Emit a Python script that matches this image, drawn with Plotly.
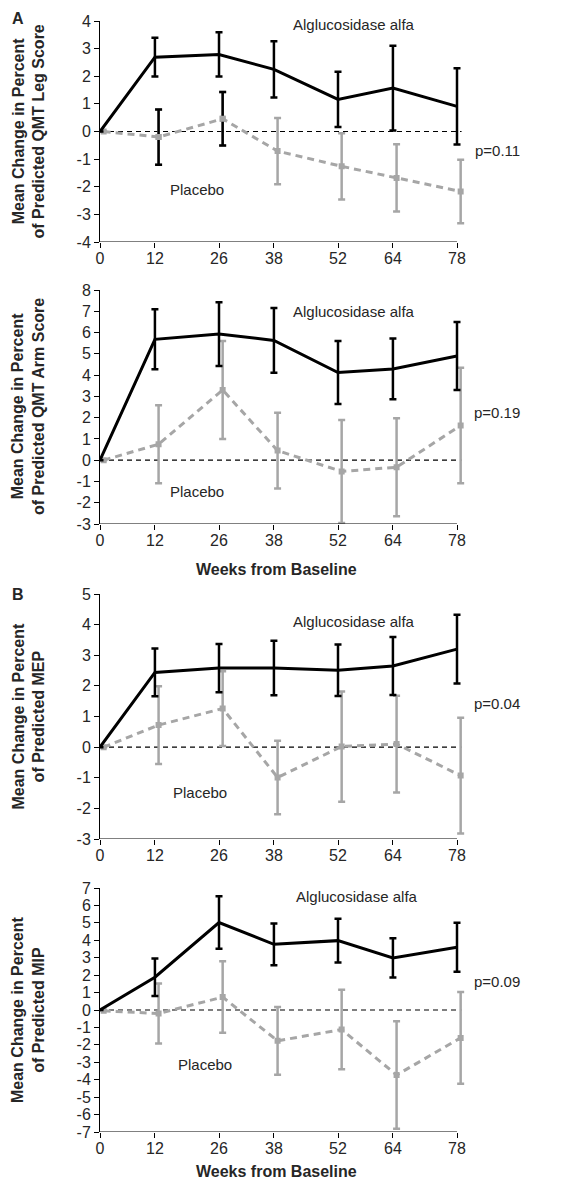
import plotly.graph_objects as go

weeks = [0, 12, 26, 38, 52, 64, 78]
tick_labels = ["0", "12", "26", "38", "52", "64", "78"]

leg_alg = [0, 2.69, 2.79, 2.25, 1.16, 1.57, 0.91]
leg_alg_err = [0, 0.70, 0.80, 1.02, 1.00, 1.53, 1.38]
leg_pla = [0, -0.20, 0.46, -0.71, -1.26, -1.68, -2.17]
leg_pla_err = [0, 1.00, 0.97, 1.20, 1.20, 1.22, 1.15]
leg_pla_dark_bar_weeks = [12, 26]

arm_alg = [0, 5.68, 5.93, 5.63, 4.12, 4.29, 4.90]
arm_alg_err = [0, 1.41, 1.50, 1.52, 1.48, 1.43, 1.60]
arm_pla = [0, 0.75, 3.30, 0.45, -0.53, -0.33, 1.63]
arm_pla_err = [0, 1.83, 2.30, 1.78, 2.42, 2.30, 2.72]

mep_alg = [0, 2.44, 2.58, 2.58, 2.51, 2.65, 3.20]
mep_alg_err = [0, 0.78, 0.79, 0.89, 0.84, 0.95, 1.12]
mep_pla = [0, 0.72, 1.26, -0.99, 0.02, 0.10, -0.93]
mep_pla_err = [0, 1.27, 1.22, 1.20, 1.80, 1.58, 1.89]

mip_alg = [0, 1.88, 5.02, 3.77, 3.98, 2.99, 3.60]
mip_alg_err = [0, 1.08, 1.50, 1.20, 1.26, 1.13, 1.40]
mip_pla = [-0.05, -0.20, 0.74, -1.77, -1.12, -3.73, -1.60]
mip_pla_err = [0, 1.72, 2.05, 1.94, 2.28, 3.08, 2.63]

# screen pixel layout (page has an 8px body margin)
PAGE_OFF = 8
W, H = 588 - PAGE_OFF, 1182 - PAGE_OFF


def fx(px):
    return (px - PAGE_OFF) / W


def fy(py):
    return 1 - (py - PAGE_OFF) / H


panels = [
    dict(alg=leg_alg, alg_err=leg_alg_err, pla=leg_pla, pla_err=leg_pla_err,
         dark=leg_pla_dark_bar_weeks,
         yr=[-4, 4], title="Mean Change in Percent<br>of Predicted QMT Leg Score",
         p="p=0.11", py=-0.67, alg_lab=(55.5, 3.89), pla_lab=(21.3, -2.09),
         top=21, bottom=242, xtitle=None),
    dict(alg=arm_alg, alg_err=arm_alg_err, pla=arm_pla, pla_err=arm_pla_err, dark=[],
         yr=[-3, 8], title="Mean Change in Percent<br>of Predicted QMT Arm Score",
         p="p=0.19", py=2.23, alg_lab=(55.5, 6.98), pla_lab=(21.3, -1.48),
         top=290, bottom=524, xtitle=569),
    dict(alg=mep_alg, alg_err=mep_alg_err, pla=mep_pla, pla_err=mep_pla_err, dark=[],
         yr=[-3, 5], title="Mean Change in Percent<br>of Predicted MEP",
         p="p=0.04", py=1.42, alg_lab=(55.4, 4.11), pla_lab=(21.8, -1.48),
         top=594, bottom=839, xtitle=None),
    dict(alg=mip_alg, alg_err=mip_alg_err, pla=mip_pla, pla_err=mip_pla_err, dark=[],
         yr=[-7, 7], title="Mean Change in Percent<br>of Predicted MIP",
         p="p=0.09", py=1.62, alg_lab=(56.1, 6.53), pla_lab=(22.9, -3.1),
         top=888, bottom=1132, xtitle=1171),
]

FONT = "Liberation Sans, Arial, sans-serif"
BLACK = "#000000"
GRAY = "#a6a6a6"
TXT = "#262626"
offset = 0.8
X_MAX = 78
X_RANGE = [0, 80]
X_DOMAIN = [fx(100), fx(100 + 357 * 80 / 78)]

fig = go.Figure()
annotations = []
shapes = []
layout_axes = {}
for i, p in enumerate(panels):
    n = i + 1
    xa = "x" if n == 1 else f"x{n}"
    ya = "y" if n == 1 else f"y{n}"
    xp = [w + offset for w in weeks]
    fig.add_trace(go.Scatter(
        x=xp, y=p["pla"], xaxis=xa, yaxis=ya,
        mode="lines+markers", line=dict(color=GRAY, width=3, dash="7px,5px"),
        marker=dict(symbol="square", size=6, color=GRAY),
        error_y=dict(type="data", array=p["pla_err"], color=GRAY, thickness=2.5, width=3.5),
        showlegend=False))
    if p["dark"]:
        idx = [weeks.index(w) for w in p["dark"]]
        fig.add_trace(go.Scatter(
            x=[xp[k] for k in idx], y=[p["pla"][k] for k in idx], xaxis=xa, yaxis=ya,
            mode="markers", marker=dict(symbol="square", size=6, color=GRAY),
            error_y=dict(type="data", array=[p["pla_err"][k] for k in idx],
                         color=BLACK, thickness=2.5, width=3.5),
            showlegend=False))
    fig.add_trace(go.Scatter(
        x=weeks, y=p["alg"], xaxis=xa, yaxis=ya,
        mode="lines", line=dict(color=BLACK, width=3),
        error_y=dict(type="data", array=p["alg_err"], color=BLACK, thickness=2.5, width=3.5),
        showlegend=False))
    shapes.append(dict(type="line", xref=xa, yref=ya, x0=0, x1=X_MAX + 1, y0=0, y1=0,
                       line=dict(color=BLACK, width=1.2, dash="5px,4px"), layer="below"))
    shapes.append(dict(type="line", xref=xa, yref=ya, x0=0, x1=X_MAX, y0=p["yr"][0], y1=p["yr"][0],
                       line=dict(color=BLACK, width=1), layer="above"))
    yt = list(range(p["yr"][0], p["yr"][1] + 1))
    dom = [fy(p["bottom"]), fy(p["top"])]
    xkey = "xaxis" if n == 1 else f"xaxis{n}"
    ykey = "yaxis" if n == 1 else f"yaxis{n}"
    layout_axes[xkey] = dict(domain=X_DOMAIN, range=X_RANGE, anchor=ya, automargin=False,
                             tickvals=weeks, ticktext=tick_labels, showgrid=False,
                             zeroline=False, showline=False,
                             ticks="outside", ticklen=5, tickcolor=BLACK,
                             ticklabelstandoff=-3,
                             tickfont=dict(family=FONT, size=16, color=TXT))
    layout_axes[ykey] = dict(domain=dom, range=p["yr"], anchor=xa, automargin=False,
                             tickvals=yt, ticktext=[str(v) for v in yt],
                             showgrid=False, zeroline=False, showline=True,
                             linecolor=BLACK, linewidth=1, ticks="outside", ticklen=5,
                             tickcolor=BLACK, tickfont=dict(family=FONT, size=16, color=TXT))
    annotations.append(dict(xref="paper", yref="paper", x=fx(28),
                            y=fy((p["top"] + p["bottom"]) / 2),
                            text="<b>" + p["title"] + "</b>", textangle=-90,
                            showarrow=False, xanchor="center", yanchor="middle",
                            font=dict(family=FONT, size=16, color=TXT)))
    annotations.append(dict(xref=xa, yref=ya, x=p["alg_lab"][0], y=p["alg_lab"][1],
                            text="Alglucosidase alfa", showarrow=False,
                            font=dict(family=FONT, size=15, color=TXT)))
    annotations.append(dict(xref=xa, yref=ya, x=p["pla_lab"][0], y=p["pla_lab"][1],
                            text="Placebo", showarrow=False,
                            font=dict(family=FONT, size=15, color=TXT)))
    annotations.append(dict(xref="paper", yref=ya, x=fx(497), y=p["py"],
                            text=p["p"], showarrow=False, xanchor="center",
                            font=dict(family=FONT, size=15, color=TXT)))
    if p["xtitle"]:
        annotations.append(dict(xref="paper", yref="paper", x=fx(276),
                                y=fy(p["xtitle"]), yanchor="middle",
                                text="<b>Weeks from Baseline</b>", showarrow=False,
                                font=dict(family=FONT, size=16, color=TXT)))

annotations.append(dict(xref="paper", yref="paper", x=fx(18), y=fy(8.5),
                        text="<b>A</b>", showarrow=False, xanchor="center", yanchor="top",
                        font=dict(family=FONT, size=16, color=TXT)))
annotations.append(dict(xref="paper", yref="paper", x=fx(17.5), y=fy(594),
                        text="<b>B</b>", showarrow=False, xanchor="center", yanchor="middle",
                        font=dict(family=FONT, size=16, color=TXT)))

fig.update_layout(width=W, height=H,
                  margin=dict(l=0, r=0, t=0, b=0, autoexpand=False),
                  paper_bgcolor="white", plot_bgcolor="white",
                  annotations=annotations, shapes=shapes, **layout_axes)
fig.write_html("out.html")
